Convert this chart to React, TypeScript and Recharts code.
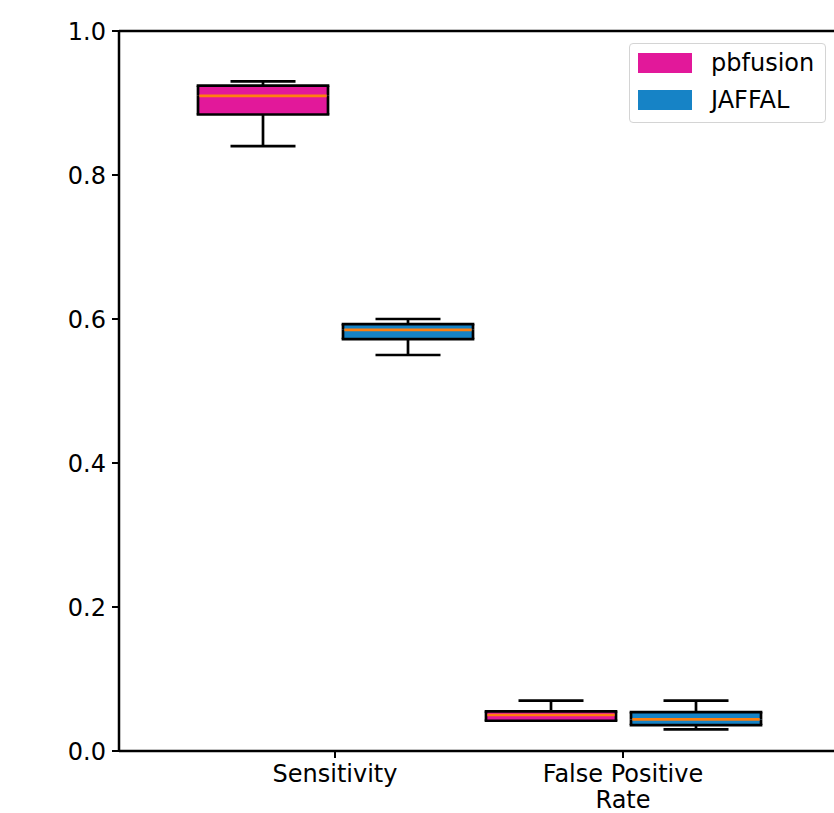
import { ComposedChart, Bar, XAxis, YAxis, Legend } from 'recharts';

const categories = ['Sensitivity', 'False Positive\nRate'];
const seriesNames = ['pbfusion', 'JAFFAL'];
const seriesColors = ['#e2189a', '#1683c6'];

// box stats per category
const pbfusionMin = [0.84, 0.042];
const pbfusionQ1 = [0.884, 0.042];
const pbfusionMedian = [0.91, 0.05];
const pbfusionQ3 = [0.924, 0.055];
const pbfusionMax = [0.93, 0.07];

const jaffalMin = [0.55, 0.03];
const jaffalQ1 = [0.572, 0.036];
const jaffalMedian = [0.585, 0.044];
const jaffalQ3 = [0.593, 0.054];
const jaffalMax = [0.6, 0.07];

const yTicks = [0, 0.2, 0.4, 0.6, 0.8, 1.0];

const data = categories.map((name, i) => ({
    name,
    pbBase: pbfusionMin[i],
    pbLowW: pbfusionQ1[i] - pbfusionMin[i],
    pbLowBox: pbfusionMedian[i] - pbfusionQ1[i],
    pbHighBox: pbfusionQ3[i] - pbfusionMedian[i],
    pbHighW: pbfusionMax[i] - pbfusionQ3[i],
    jaBase: jaffalMin[i],
    jaLowW: jaffalQ1[i] - jaffalMin[i],
    jaLowBox: jaffalMedian[i] - jaffalQ1[i],
    jaHighBox: jaffalQ3[i] - jaffalMedian[i],
    jaHighW: jaffalMax[i] - jaffalQ3[i],
}));

const LW = 2.7;
const MEDIAN = '#ff7f0e';

const Empty = () => <g />;

const LowWhisker = (p: any) => {
    const cx = p.x + p.width / 2;
    const bottom = p.y + p.height;
    const half = p.width / 4;
    return (
        <g>
            <line x1={cx} x2={cx} y1={p.y} y2={bottom} stroke="#000" strokeWidth={LW} />
            <line x1={cx - half} x2={cx + half} y1={bottom} y2={bottom} stroke="#000" strokeWidth={LW} />
        </g>
    );
};

const HighWhisker = (p: any) => {
    const cx = p.x + p.width / 2;
    const bottom = p.y + p.height;
    const half = p.width / 4;
    return (
        <g>
            <line x1={cx} x2={cx} y1={bottom} y2={p.y} stroke="#000" strokeWidth={LW} />
            <line x1={cx - half} x2={cx + half} y1={p.y} y2={p.y} stroke="#000" strokeWidth={LW} />
        </g>
    );
};

const LowBox = (p: any) => {
    const right = p.x + p.width;
    const bottom = p.y + p.height;
    return (
        <g>
            <rect x={p.x} y={p.y} width={p.width} height={p.height} fill={p.fill} />
            <line x1={p.x} x2={p.x} y1={p.y} y2={bottom} stroke="#000" strokeWidth={LW} />
            <line x1={right} x2={right} y1={p.y} y2={bottom} stroke="#000" strokeWidth={LW} />
            <line x1={p.x - LW / 2} x2={right + LW / 2} y1={bottom} y2={bottom} stroke="#000" strokeWidth={LW} />
        </g>
    );
};

const HighBox = (p: any) => {
    const right = p.x + p.width;
    const bottom = p.y + p.height;
    return (
        <g>
            <rect x={p.x} y={p.y} width={p.width} height={p.height} fill={p.fill} />
            <line x1={p.x} x2={p.x} y1={p.y} y2={bottom} stroke="#000" strokeWidth={LW} />
            <line x1={right} x2={right} y1={p.y} y2={bottom} stroke="#000" strokeWidth={LW} />
            <line x1={p.x - LW / 2} x2={right + LW / 2} y1={p.y} y2={p.y} stroke="#000" strokeWidth={LW} />
            <line x1={p.x + LW / 2} x2={right - LW / 2} y1={bottom} y2={bottom} stroke={MEDIAN} strokeWidth={LW} />
        </g>
    );
};

const CategoryTick = (p: any) => {
    const lines = String(p.payload.value).split('\n');
    return (
        <text x={p.x} y={p.y + 22} textAnchor="middle" fontSize={24} fill="#000">
            {lines.map((l, i) => (
                <tspan key={i} x={p.x} dy={i === 0 ? 0 : 26}>{l}</tspan>
            ))}
        </text>
    );
};

const LegendBox = () => (
    <div style={{
        width: 195, height: 78, border: '1.5px solid #d4d4d4', borderRadius: 4,
        background: 'rgba(255,255,255,0.8)', position: 'relative',
    }}>
        {seriesNames.map((s, i) => (
            <div key={s} style={{ position: 'absolute', left: 8, top: 9 + i * 37, display: 'flex', alignItems: 'center' }}>
                <div style={{ width: 54, height: 20, background: seriesColors[i] }} />
                <span style={{ marginLeft: 19, fontSize: 24, lineHeight: '20px', color: '#000' }}>{s}</span>
            </div>
        ))}
    </div>
);

export default function App() {
    return (
        <div style={{ position: 'absolute', left: 0, top: 0, width: 834, height: 813, overflow: 'hidden', background: '#fff', fontFamily: 'DejaVu Sans' }}>
            <ComposedChart
                width={840}
                height={813}
                data={data}
                margin={{ top: 30, right: 1, bottom: 0, left: 59 }}
                barSize={130}
                barGap={15}
                style={{ fontFamily: 'DejaVu Sans' }}
            >
                <XAxis
                    dataKey="name"
                    height={62}
                    padding={{ left: 72, right: 72 }}
                    axisLine={{ stroke: '#000', strokeWidth: 2.5 }}
                    tickLine={{ stroke: '#000', strokeWidth: 2 }}
                    tickSize={7}
                    tick={<CategoryTick />}
                    interval={0}
                />
                <XAxis
                    xAxisId="top"
                    orientation="top"
                    dataKey="name"
                    height={1}
                    tick={false}
                    tickLine={false}
                    axisLine={{ stroke: '#000', strokeWidth: 2.5 }}
                />
                <YAxis
                    width={60}
                    domain={[0, 1]}
                    ticks={yTicks}
                    tickFormatter={(v: number) => v.toFixed(1)}
                    axisLine={{ stroke: '#000', strokeWidth: 2.5 }}
                    tickLine={{ stroke: '#000', strokeWidth: 2 }}
                    tickSize={7}
                    tickMargin={6}
                    tick={{ fontSize: 24, fill: '#000' }}
                    allowDataOverflow
                />
                <Legend
                    layout="vertical"
                    align="center"
                    verticalAlign="middle"
                    wrapperStyle={{ top: 43, left: 629, width: 'auto', bottom: 'auto', right: 'auto' }}
                    content={<LegendBox />}
                />
                <Bar dataKey="pbBase" stackId="pb" fill="none" shape={<Empty />} isAnimationActive={false} legendType="none" />
                <Bar dataKey="pbLowW" stackId="pb" fill="none" shape={<LowWhisker />} isAnimationActive={false} legendType="none" />
                <Bar dataKey="pbLowBox" stackId="pb" fill={seriesColors[0]} shape={<LowBox />} isAnimationActive={false} />
                <Bar dataKey="pbHighBox" stackId="pb" fill={seriesColors[0]} shape={<HighBox />} isAnimationActive={false} legendType="none" />
                <Bar dataKey="pbHighW" stackId="pb" fill="none" shape={<HighWhisker />} isAnimationActive={false} legendType="none" />
                <Bar dataKey="jaBase" stackId="ja" fill="none" shape={<Empty />} isAnimationActive={false} legendType="none" />
                <Bar dataKey="jaLowW" stackId="ja" fill="none" shape={<LowWhisker />} isAnimationActive={false} legendType="none" />
                <Bar dataKey="jaLowBox" stackId="ja" fill={seriesColors[1]} shape={<LowBox />} isAnimationActive={false} />
                <Bar dataKey="jaHighBox" stackId="ja" fill={seriesColors[1]} shape={<HighBox />} isAnimationActive={false} legendType="none" />
                <Bar dataKey="jaHighW" stackId="ja" fill="none" shape={<HighWhisker />} isAnimationActive={false} legendType="none" />
            </ComposedChart>
        </div>
    );
}
